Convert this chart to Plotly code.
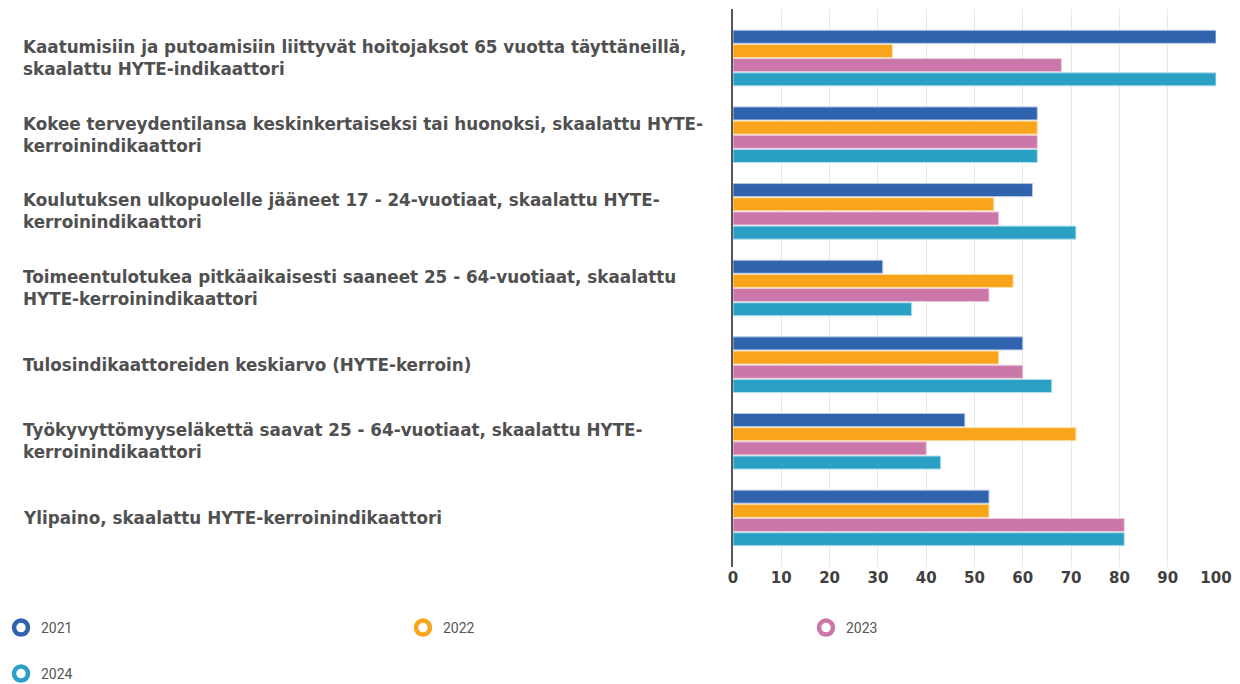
import plotly.graph_objects as go

categories = [
    "Kaatumisiin ja putoamisiin liittyvät hoitojaksot 65 vuotta täyttäneillä,<br>skaalattu HYTE-indikaattori",
    "Kokee terveydentilansa keskinkertaiseksi tai huonoksi, skaalattu HYTE-<br>kerroinindikaattori",
    "Koulutuksen ulkopuolelle jääneet 17 - 24-vuotiaat, skaalattu HYTE-<br>kerroinindikaattori",
    "Toimeentulotukea pitkäaikaisesti saaneet 25 - 64-vuotiaat, skaalattu<br>HYTE-kerroinindikaattori",
    "Tulosindikaattoreiden keskiarvo (HYTE-kerroin)",
    "Työkyvyttömyyseläkettä saavat 25 - 64-vuotiaat, skaalattu HYTE-<br>kerroinindikaattori",
    "Ylipaino, skaalattu HYTE-kerroinindikaattori",
]
years = ["2021", "2022", "2023", "2024"]
values_2021 = [100, 63, 62, 31, 60, 48, 53]
values_2022 = [33, 63, 54, 58, 55, 71, 53]
values_2023 = [68, 63, 55, 53, 60, 40, 81]
values_2024 = [100, 63, 71, 37, 66, 43, 81]
x_ticks = [0, 10, 20, 30, 40, 50, 60, 70, 80, 90, 100]

series = [values_2021, values_2022, values_2023, values_2024]
colors = ["#3063AD", "#F9A51B", "#CB77A9", "#29A0C4"]
line_colors = ["#B8C8E6", "#FCE0B0", "#EBCBDD", "#B5E0EC"]

idx = list(range(len(categories)))

# page body has an 8px margin: figure coordinates = screen coordinates - 8
W, H = 1232, 676
L, R, T, B = 725, 24, 1, 117
pw = W - L - R
ph = H - T - B


def px_x(sx):
    return (sx - 8 - L) / pw


def px_y(sy):
    return (H - B - (sy - 8)) / ph


fig = go.Figure()
for yr, vals, c, lc in zip(years, series, colors, line_colors):
    fig.add_trace(go.Bar(
        y=idx, x=vals, orientation="h", name=yr,
        marker=dict(color=c, line=dict(color=lc, width=1)),
        showlegend=False,
    ))

legend_names = ["legend", "legend2", "legend3", "legend4"]
for yr, c, lg in zip(years, colors, legend_names):
    fig.add_trace(go.Scatter(
        x=[None], y=[None], mode="markers", name=yr,
        marker=dict(symbol="circle-open", size=14, color=c, line=dict(color=c, width=4.5)),
        legend=lg,
    ))

for i, cat in enumerate(categories):
    fig.add_annotation(
        x=px_x(21), xref="paper", y=i, yref="y",
        text=cat, showarrow=False, xanchor="left", yanchor="middle", align="left",
        font=dict(family="DejaVu Sans", size=16.8, color="#505050", weight=700),
    )

legend_common = dict(
    orientation="h", xanchor="left", yanchor="middle",
    font=dict(family="Roboto", size=14, color="#555555"),
    itemsizing="trace", bgcolor="rgba(0,0,0,0)",
)

fig.update_layout(
    width=W, height=H,
    margin=dict(l=L, r=R, t=T, b=B, autoexpand=False),
    paper_bgcolor="white", plot_bgcolor="white",
    barmode="group", bargap=0.26, bargroupgap=0.08,
    xaxis=dict(
        range=[0, 100], tickvals=x_ticks, showgrid=True, gridcolor="#e8e8e8", gridwidth=1,
        zeroline=False, showline=False, ticks="",
        tickfont=dict(family="DejaVu Sans", size=15, color="#404040", weight=700),
    ),
    yaxis=dict(
        range=[6.64, -0.64], showticklabels=False, showgrid=False, zeroline=False,
        showline=True, linecolor="#555555", linewidth=2, ticks="",
    ),
    legend=dict(x=px_x(1), y=px_y(628), **legend_common),
    legend2=dict(x=px_x(403), y=px_y(628), **legend_common),
    legend3=dict(x=px_x(806), y=px_y(628), **legend_common),
    legend4=dict(x=px_x(1), y=px_y(674), **legend_common),
    showlegend=True,
)

fig.write_html("out.html")
